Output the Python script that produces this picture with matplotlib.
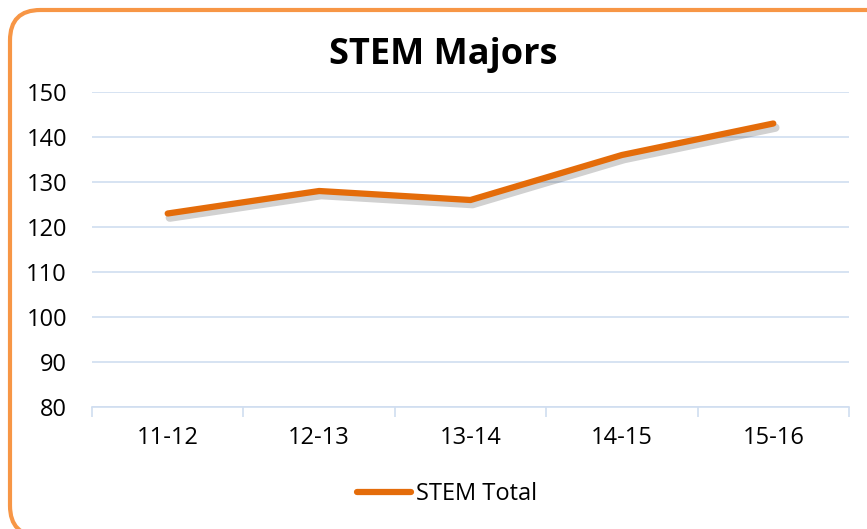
import matplotlib
matplotlib.use("Agg")
import matplotlib.pyplot as plt
import matplotlib.patheffects as pe
from matplotlib.patches import FancyBboxPatch
from matplotlib.lines import Line2D
from matplotlib.ticker import FixedLocator

categories = ["11-12", "12-13", "13-14", "14-15", "15-16"]
stem_total = [123, 128, 126, 136, 143]
yticks = [80, 90, 100, 110, 120, 130, 140, 150]

W, H = 867, 529
LINE_C = "#E46C0A"
GRID_C = "#D0DEF0"
plt.rcParams['font.family'] = ['Open Sans', 'DejaVu Sans']
fig = plt.figure(figsize=(W / 100, H / 100), dpi=100)

# rounded orange frame (extends past right and bottom edges)
frame = FancyBboxPatch((10 / W, -7 / H), (W + 40) / W, (H - 10 + 7) / H,
                       boxstyle="round,pad=0,rounding_size=0.035",
                       transform=fig.transFigure, facecolor="white",
                       edgecolor="#F79646", linewidth=3, mutation_aspect=W / H,
                       zorder=-5)
fig.patches.append(frame)

ax = fig.add_axes([92 / W, 1 - 407 / H, (849 - 92) / W, (407 - 92) / H])
ax.set_facecolor("none")
x = list(range(len(categories)))
ax.plot(x, stem_total, color=LINE_C, linewidth=4.5, solid_capstyle="round",
        zorder=3,
        path_effects=[pe.SimpleLineShadow(offset=(1.5, -3), alpha=0.18, shadow_color="black",
                                          linewidth=6),
                      pe.Normal()])
ax.set_xlim(-0.5, len(categories) - 0.5)
ax.set_ylim(80, 150)
ax.set_yticks(yticks)
ax.set_xticks(x)
ax.set_xticklabels(categories)
ax.xaxis.set_minor_locator(FixedLocator([i - 0.5 for i in range(len(categories) + 1)]))
ax.tick_params(axis='x', which='major', length=0, pad=14, labelsize=17)
ax.tick_params(axis='x', which='minor', length=7, color=GRID_C, width=1.2, direction='out')
ax.tick_params(axis='y', length=0, pad=18, labelsize=17)
ax.grid(axis='y', color=GRID_C, linewidth=1.2)
for s in ['top', 'right', 'left']:
    ax.spines[s].set_visible(False)
ax.spines['bottom'].set_color(GRID_C)
ax.spines['bottom'].set_linewidth(1.2)
ax.set_axisbelow(True)

fig.text(443 / W, 1 - 55 / H, "STEM Majors", ha='center', va='center',
         fontsize=26, fontweight='bold')

handle = Line2D([], [], color=LINE_C, linewidth=4.5, solid_capstyle="round")
fig.legend([handle], ["STEM Total"], loc='center', bbox_to_anchor=(447 / W, 1 - 494 / H),
           frameon=False, fontsize=17, handlelength=2.3, handletextpad=0.2)

fig.savefig("out.png", dpi=100)
